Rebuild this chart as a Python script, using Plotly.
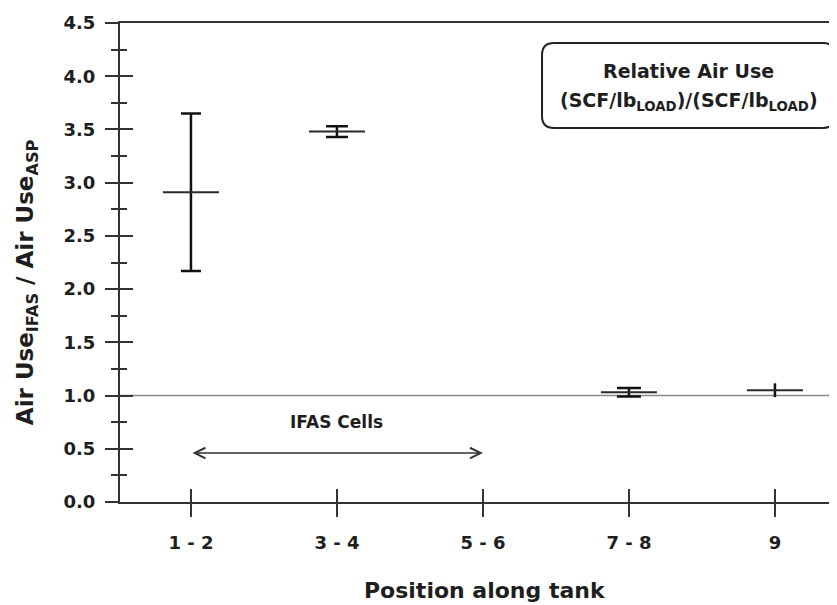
import plotly.graph_objects as go

# ---------------- data ----------------
positions = ["1 - 2", "3 - 4", "5 - 6", "7 - 8", "9"]
relative_air_use = [2.91, 3.48, None, 1.03, 1.05]
error_half_range = [0.74, 0.05, None, 0.04, 0.065]
y_tick_values = [0.0, 0.5, 1.0, 1.5, 2.0, 2.5, 3.0, 3.5, 4.0, 4.5]
y_tick_labels = ["0.0", "0.5", "1.0", "1.5", "2.0", "2.5", "3.0", "3.5", "4.0", "4.5"]
baseline_ratio = 1.0
ifas_span = ["1 - 2", "5 - 6"]
ifas_label = "IFAS Cells"
ifas_label_position = "3 - 4"

# ---------------- styles ----------------
cap_widths = [10, 11, 0, 12, 0]
FONT = "DejaVu Sans"
INK = "#1e1e1e"
AXIS = "#333333"

x_index = list(range(len(positions)))
x_range = [-0.486, 4.425]
y_range = [0, 4.5]
minor_vals = [v + 0.25 for v in y_tick_values[:-1]]

fig = go.Figure()

for xi, val, err, cap in zip(x_index, relative_air_use, error_half_range, cap_widths):
    if val is None:
        continue
    fig.add_trace(go.Scatter(
        x=[xi], y=[val], mode="markers",
        marker=dict(symbol="line-ew", size=40, color=INK,
                    line=dict(width=2, color="#2a2a2a")),
        error_y=dict(type="data", array=[err], visible=True,
                     width=cap, thickness=2.5, color="#111111"),
        showlegend=False, hoverinfo="skip",
    ))

# invisible trace for the overlay (inside-tick) axes
fig.add_trace(go.Scatter(x=x_index, y=relative_air_use,
                         xaxis="x2", yaxis="y2", mode="markers",
                         marker=dict(opacity=0), showlegend=False, hoverinfo="skip"))

# baseline reference line
fig.add_shape(type="line", xref="paper", yref="y", x0=0, x1=1,
              y0=baseline_ratio, y1=baseline_ratio,
              line=dict(color="#8a8a8a", width=1.6), layer="below")

# rounded info box (paper coordinates)
bx0, bx1, by0, by1 = 0.5886, 0.9972, 0.781, 0.958
rx, ry = 0.0167, 0.025
path = (f"M{bx0+rx},{by1} L{bx1-rx},{by1} Q{bx1},{by1} {bx1},{by1-ry} "
        f"L{bx1},{by0+ry} Q{bx1},{by0} {bx1-rx},{by0} "
        f"L{bx0+rx},{by0} Q{bx0},{by0} {bx0},{by0+ry} "
        f"L{bx0},{by1-ry} Q{bx0},{by1} {bx0+rx},{by1} Z")
fig.add_shape(type="path", path=path, xref="paper", yref="paper",
              line=dict(color="#222222", width=2), fillcolor="white")

fig.add_annotation(xref="paper", yref="paper", x=(bx0 + bx1) / 2, y=0.900,
                   text="<b>Relative Air Use</b>", showarrow=False,
                   font=dict(family=FONT, size=19, color=INK),
                   xanchor="center", yanchor="middle")
fig.add_annotation(xref="paper", yref="paper", x=(bx0 + bx1) / 2, y=0.836,
                   text="<b>(SCF/lb<sub>LOAD</sub>)/(SCF/lb<sub>LOAD</sub>)</b>",
                   showarrow=False,
                   font=dict(family=FONT, size=19, color=INK),
                   xanchor="center", yanchor="middle")

# IFAS double arrow + label
fig.add_annotation(x=positions.index(ifas_span[1]), y=0.46,
                   ax=positions.index(ifas_span[0]), ay=0.46,
                   xref="x", yref="y", axref="x", ayref="y",
                   text="", showarrow=True, arrowhead=5, startarrowhead=5,
                   arrowside="end+start", arrowsize=1.4, startarrowsize=1.4,
                   arrowwidth=1.5, arrowcolor="#333333")
fig.add_annotation(x=positions.index(ifas_label_position), y=0.75, xref="x", yref="y",
                   text=f"<b>{ifas_label}</b>", showarrow=False,
                   font=dict(family=FONT, size=17, color=INK))

# axis titles
fig.add_annotation(xref="paper", yref="paper", x=0.509, y=-0.184,
                   text="<b>Position along tank</b>", showarrow=False,
                   font=dict(family=FONT, size=22, color=INK),
                   xanchor="center", yanchor="middle")
fig.add_annotation(xref="paper", yref="paper", x=-0.1297, y=0.459,
                   text="<b>Air Use<sub>IFAS</sub> / Air Use<sub>ASP</sub></b>",
                   textangle=-90, showarrow=False,
                   font=dict(family=FONT, size=23, color=INK),
                   xanchor="center", yanchor="middle")

tickfont = dict(family=FONT, size=18, color=INK, weight="bold")

# page body has an ~8px margin: figure is sized/offset to compensate
fig.update_layout(
    width=829, height=597,
    margin=dict(l=112, r=0, t=15, b=103, pad=0),
    paper_bgcolor="white", plot_bgcolor="white",
    showlegend=False,
    xaxis=dict(range=x_range, tickmode="array", tickvals=x_index, ticktext=positions,
               showline=True, linecolor=AXIS, linewidth=2, mirror=True,
               ticks="outside", ticklen=13, tickwidth=2, tickcolor=AXIS,
               showgrid=False, zeroline=False, tickfont=tickfont,
               ticklabelstandoff=10),
    yaxis=dict(range=y_range, tickmode="array", tickvals=y_tick_values, ticktext=y_tick_labels,
               showline=True, linecolor=AXIS, linewidth=2, mirror=False,
               ticks="outside", ticklen=13, tickwidth=2, tickcolor=AXIS,
               minor=dict(tickmode="array", tickvals=minor_vals, ticks="outside",
                          ticklen=7, tickwidth=1.5, tickcolor=AXIS),
               showgrid=False, zeroline=False, tickfont=tickfont,
               ticklabelstandoff=6),
    xaxis2=dict(overlaying="x", range=x_range, tickmode="array", tickvals=x_index,
                ticks="inside", ticklen=13, tickwidth=2, tickcolor=AXIS,
                showticklabels=False, showline=False, showgrid=False, zeroline=False),
    yaxis2=dict(overlaying="y", range=y_range, tickmode="array", tickvals=y_tick_values,
                ticks="inside", ticklen=13, tickwidth=2, tickcolor=AXIS,
                minor=dict(tickmode="array", tickvals=minor_vals, ticks="inside",
                           ticklen=7, tickwidth=1.5, tickcolor=AXIS),
                showticklabels=False, showline=False, showgrid=False, zeroline=False),
)

fig.write_html("out.html")
